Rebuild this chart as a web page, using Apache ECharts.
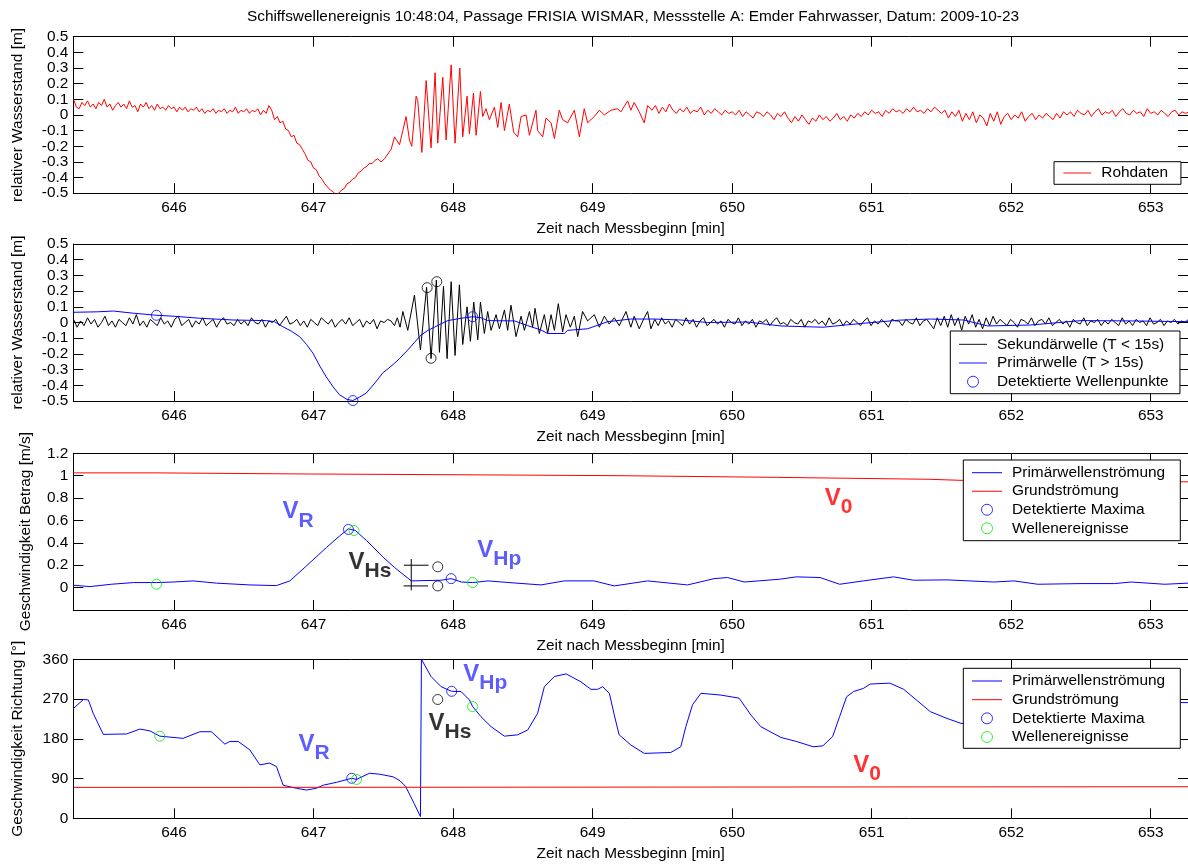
<!DOCTYPE html>
<html><head><meta charset="utf-8">
<script src="https://cdn.jsdelivr.net/npm/echarts@6.0.0/dist/echarts.min.js"></script>
<style>html,body{margin:0;padding:0;background:#fff}#c{width:1188px;height:866px}</style>
</head><body><div id="c"></div>
<script>
// ---------------- DATA ----------------
const X_MIN = 645.278, X_MAX = 653.267;
const xTicks = [646, 647, 648, 649, 650, 651, 652, 653];
const yTicksLevel = [-0.5, -0.4, -0.3, -0.2, -0.1, 0, 0.1, 0.2, 0.3, 0.4, 0.5];
const yTicksSpeed = [0, 0.2, 0.4, 0.6, 0.8, 1, 1.2];
const yTicksDir = [0, 90, 180, 270, 360];

const titleText = 'Schiffswellenereignis 10:48:04, Passage FRISIA WISMAR, Messstelle A: Emder Fahrwasser, Datum: 2009-10-23';
const xName = 'Zeit nach Messbeginn [min]';
const yNames = ['relativer Wasserstand [m]', 'relativer Wasserstand [m]', 'Geschwindigkeit Betrag [m/s]', 'Geschwindigkeit Richtung [°]'];

// sampled segments: [start time, sample step, values]
const rawCalm = [645.28, 0.02, [0.10,0.05,0.04,0.08,0.06,0.09,0.05,0.07,0.04,0.08,
  0.06,0.10,0.05,0.07,0.03,0.06,0.08,0.05,0.07,0.04,
  0.09,0.05,0.06,0.02,0.07,0.05,0.08,0.04,0.06,0.03,
  0.07,0.04,0.05,0.03,0.06,0.04,0.05,0.02,0.05,0.03,
  0.05,0.02,0.04,0.03,0.05,0.02,0.04,0.01,0.03,0.02,
  0.04,0.01,0.03,0.02,0.04,0.01,0.03,0.02,0.05,0.01,
  0.03,0.02,0.04,0.01,0.03,0.02,0.04,0.00,0.03,0.01,
  0.06,0.03]];
const rawDrawdown = [646.72, 0.02, [-0.03,-0.01,-0.05,-0.04,-0.09,-0.10,-0.14,-0.13,-0.18,-0.19,
  -0.22,-0.25,-0.29,-0.30,-0.34,-0.35,-0.39,-0.41,-0.44,-0.46,
  -0.48,-0.49,-0.51,-0.50,-0.48,-0.47,-0.44,-0.43,-0.41,-0.40,
  -0.37,-0.36,-0.34,-0.33,-0.31,-0.31,-0.29,-0.28]];
const rawWaves = [[647.484,-0.30],[647.508,-0.28],[647.532,-0.25],[647.556,-0.22],[647.580,-0.14],[647.592,-0.13],[647.616,-0.19],[647.640,-0.10],[647.663,-0.01],[647.687,-0.16],[647.704,-0.20],[647.735,0.12],[647.747,0.09],[647.776,-0.24],[647.807,0.22],[647.819,0.21],[647.842,-0.21],[647.871,0.27],[647.890,-0.18],[647.926,0.24],[647.950,-0.16],[647.986,0.32],[648.014,-0.18],[648.048,0.30],[648.069,-0.14],[648.100,0.12],[648.117,-0.12],[648.146,0.14],[648.165,-0.13],[648.196,0.15],[648.212,-0.01],[648.236,0.04],[648.260,-0.03],[648.296,0.05],[648.320,-0.08],[648.344,0.08],[648.368,-0.10],[648.403,0.07],[648.434,-0.11],[648.463,-0.14],[648.487,-0.01],[648.523,0.00],[648.547,-0.13],[648.594,0.03],[648.606,-0.10],[648.642,-0.14],[648.666,-0.02],[648.702,-0.05],[648.726,-0.15],[648.761,0.03],[648.785,-0.03],[648.821,-0.05],[648.869,0.03],[648.905,-0.14],[648.940,0.04],[648.964,-0.05],[649.012,-0.01],[649.048,0.03],[649.084,0.00],[649.131,0.03],[649.179,0.04],[649.203,0.02],[649.251,0.09],[649.274,0.03],[649.298,0.08],[649.334,0.02],[649.370,-0.05],[649.394,0.06]];
const rawTail = [649.425, 0.025, [0.03,0.06,0.01,0.05,0.02,0.07,0.03,0.01,
  0.04,0.02,0.05,0.01,0.03,0.02,0.05,0.00,0.03,0.01,0.04,0.02,0.00,0.03,0.01,0.02,
  0.00,0.03,-0.01,0.02,0.00,-0.02,0.02,0.01,-0.01,0.02,0.00,-0.03,0.01,-0.01,0.02,-0.02,
  -0.05,-0.01,-0.04,0.00,-0.03,-0.06,-0.02,-0.04,0.00,-0.03,-0.01,-0.04,-0.02,0.01,-0.03,-0.01,-0.04,0.00,-0.02,0.01,
  -0.01,0.02,0.00,0.03,0.01,0.02,-0.01,0.03,0.01,0.04,0.02,0.03,0.01,0.04,0.02,0.05,0.02,0.03,0.01,0.04,0.02,0.05,0.03,0.01,
  0.03,-0.02,0.02,-0.01,0.03,-0.04,0.01,-0.03,0.02,-0.05,0.00,-0.02,-0.07,0.01,-0.04,0.02,-0.06,-0.01,
  0.01,-0.03,0.00,-0.02,0.02,-0.04,-0.01,0.01,-0.03,0.00,-0.02,0.01,-0.01,-0.03,0.01,-0.02,0.02,0.00,
  0.02,-0.01,0.03,0.01,0.00,0.03,-0.01,0.02,0.04,0.00,0.02,0.01,0.03,-0.01,0.02,0.04,0.01,0.00,0.03,0.01,0.02,-0.01,0.04,0.01,0.02,0.00,0.03,0.01,-0.01,0.02,0.03,0.00,0.02,0.01,0.02]];

const secCalm = [645.28, 0.025, [0.02,-0.03,0.01,-0.02,0.03,-0.01,0.02,-0.03,0.00,0.04,
  -0.02,0.01,-0.03,0.02,0.00,-0.02,0.03,-0.01,0.05,-0.02,
  0.01,-0.03,0.02,0.00,-0.02,0.03,-0.01,0.01,-0.03,0.02,
  0.04,-0.02,0.00,0.02,-0.03,0.01,-0.01,0.03,-0.02,0.00,
  0.02,-0.03,0.01,0.03,-0.01,0.00,-0.02,0.02,-0.01,0.01,
  -0.02,0.03,0.00,-0.01,0.02,-0.03,0.01,0.00,0.02,-0.02,
  0.01,0.04,-0.01,0.00,0.02,-0.02,0.01,-0.03,0.02,0.00,
  -0.02,0.03,0.01,-0.01,0.02,-0.03,0.00,0.02,-0.01,0.03,
  -0.02,0.00,0.02,-0.03,0.01,-0.01,0.02,-0.04,0.01,0.00,
  0.02]];
const secWaves = [[647.555,0.01],[647.58,-0.02],[647.60,0.03],[647.62,-0.03],[647.640,0.07],[647.675,-0.05],[647.723,0.175],[647.766,-0.175],[647.810,0.225],[647.842,-0.23],[647.880,0.27],[647.902,-0.19],[647.931,0.23],[647.957,-0.23],[647.986,0.26],[648.014,-0.21],[648.045,0.24],[648.069,-0.14],[648.100,0.10],[648.124,-0.12],[648.148,0.13],[648.177,-0.11],[648.196,0.13],[648.224,-0.07],
  [648.248,0.07],[648.272,-0.05],[648.308,0.05],[648.332,-0.04],[648.368,0.08],[648.391,-0.05],[648.415,0.11],[648.451,-0.09],[648.487,0.04],[648.511,-0.05],[648.547,0.07],[648.570,-0.03],[648.587,0.09],[648.618,-0.07],[648.654,0.05],[648.678,-0.07],[648.702,0.05],[648.726,-0.05],[648.754,0.12],[648.785,-0.06],[648.809,0.05],[648.840,-0.03],[648.869,0.04],[648.893,-0.09],[648.928,0.07],[648.964,0.01],[649.012,0.05],[649.048,-0.03],[649.084,0.04],[649.119,-0.01],[649.155,0.03],[649.191,-0.02],[649.239,0.07],[649.274,-0.03],[649.298,0.04],[649.334,-0.04],[649.370,0.03],[649.394,0.07],[649.418,-0.04]];
const secTail = [649.445, 0.025, [0.02,-0.02,0.03,-0.01,0.01,-0.03,0.02,0.00,-0.02,0.03,
  -0.01,0.02,-0.03,0.01,0.03,-0.02,0.00,0.02,-0.01,0.01,
  -0.03,0.02,0.00,-0.01,0.03,-0.02,0.01,-0.01,0.02,-0.03,
  0.01,0.00,0.02,-0.02,0.01,0.03,-0.01,0.00,-0.02,0.02,
  0.00,-0.01,0.02,-0.03,0.01,0.00,0.02,-0.01,0.01,-0.02,
  0.03,-0.01,0.00,0.02,-0.02,0.01,-0.01,0.02,0.00,-0.02,
  0.01,0.03,-0.02,0.01,-0.01,0.02,0.00,-0.03,0.02,0.01,
  0.01,-0.02,0.02,0.00,-0.01,0.03,-0.02,0.01,0.02,-0.01,
  -0.04,0.03,-0.02,0.04,-0.03,0.05,-0.02,0.03,-0.05,0.04,
  -0.01,0.05,-0.03,0.02,-0.04,0.03,-0.02,0.04,-0.01,0.02,
  0.00,-0.02,0.02,0.00,-0.03,0.02,0.01,-0.01,0.03,-0.02,
  0.01,0.02,-0.01,0.03,-0.02,0.00,0.02,-0.01,0.01,-0.03,
  0.02,0.00,-0.01,0.03,-0.02,0.01,0.00,0.02,-0.02,0.01,
  -0.01,0.02,0.00,-0.02,0.03,-0.01,0.01,-0.02,0.02,0.00,
  0.01,-0.02,0.03,-0.01,0.00,0.02,-0.02,0.01,0.00,0.02,
  -0.01,0.01,0.00,0.02]];

const primLevel = [[645.28,0.065],[645.45,0.068],[645.565,0.073],[645.70,0.06],[645.874,0.046],[646.0,0.04],[646.185,0.027],[646.423,0.016],[646.662,0.012],[646.72,0.005],[646.78,-0.027],[646.84,-0.055],[646.90,-0.09],[646.95,-0.14],[646.996,-0.196],[647.04,-0.27],[647.09,-0.345],[647.14,-0.41],[647.186,-0.46],[647.24,-0.49],[647.282,-0.497],[647.33,-0.475],[647.377,-0.45],[647.44,-0.385],[647.497,-0.32],[647.54,-0.29],[647.58,-0.26],[647.616,-0.23],[647.675,-0.175],[647.72,-0.13],[647.77,-0.08],[647.82,-0.05],[647.866,-0.03],[647.91,-0.01],[647.962,0.012],[648.057,0.027],[648.14,0.037],[648.20,0.03],[648.248,0.012],[648.44,0.01],[648.535,-0.02],[648.63,-0.048],[648.678,-0.07],[648.797,-0.07],[648.821,-0.05],[648.964,-0.04],[649.107,0.005],[649.274,0.022],[649.44,0.022],[649.632,0.016],[649.823,0.0],[650.11,0.003],[650.35,-0.022],[650.65,-0.03],[650.94,-0.005],[651.2,0.015],[651.42,0.022],[651.66,0.016],[651.83,-0.022],[652.14,-0.016],[652.5,0.012],[652.86,0.01],[653.27,0.005]];
const levelPoints = [[645.874,0.046],[647.282,-0.497],[648.14,0.037]];
const levelSecPoints = [[647.814,0.222],[647.883,0.26],[647.842,-0.228]];

const speedPrim = [[645.28,0.021],[645.397,0.009],[645.55,0.03],[645.71,0.045],[645.874,0.045],[645.994,0.05],[646.137,0.06],[646.304,0.04],[646.543,0.024],[646.734,0.018],[646.83,0.06],[646.95,0.195],[647.094,0.36],[647.19,0.465],[647.25,0.525],[647.30,0.51],[647.38,0.42],[647.50,0.27],[647.58,0.18],[647.70,0.06],[647.914,0.066],[647.986,0.08],[648.06,0.05],[648.14,0.045],[648.25,0.06],[648.40,0.045],[648.63,0.024],[648.797,0.06],[649.01,0.06],[649.155,0.015],[649.394,0.06],[649.68,0.024],[649.87,0.08],[649.967,0.09],[650.086,0.05],[650.34,0.075],[650.46,0.096],[650.63,0.09],[650.77,0.03],[650.94,0.06],[651.156,0.096],[651.3,0.066],[651.54,0.069],[651.875,0.05],[652.02,0.06],[652.19,0.03],[652.5,0.036],[652.74,0.036],[652.86,0.05],[653.1,0.03],[653.27,0.04]];
const speedBase = [[645.28,1.025],[645.864,1.025],[645.87,1.015],[646.98,1.015],[646.99,1.008],[648.093,1.008],[648.10,1.0],[649.19,1.0],[649.20,0.985],[650.32,0.985],[650.33,0.968],[651.41,0.968],[651.42,0.958],[651.65,0.958],[651.66,0.95],[653.27,0.945]];
const speedMaxima = [[647.25,0.52],[647.986,0.08]];
const speedEvents = [[645.874,0.03],[647.29,0.51],[648.14,0.045]];
const speedSecPoints = [[647.89,0.186],[647.89,0.015]];
const speedSecBars = [[[647.647,0.2],[647.824,0.2]], [[647.645,0.015],[647.82,0.015]], [[647.70,0.255],[647.70,-0.024]]];
const speedLabels = [[646.774,0.677,'R'],[647.247,0.227,'Hs'],[648.17,0.33,'Hp'],[650.66,0.80,'0']];

const dirPrim = [[645.28,249],[645.35,269],[645.386,268],[645.42,238],[645.493,190],[645.66,191],[645.755,202],[645.827,198],[645.898,186],[646.065,181],[646.185,196],[646.268,196],[646.364,168],[646.4,174],[646.46,174],[646.543,155],[646.615,121],[646.686,125],[646.734,117],[646.782,75],[646.806,73],[646.877,68],[646.949,64],[647.02,68],[647.07,75],[647.165,81.5],[647.273,90.6],[647.308,88],[647.40,102],[647.47,100],[647.57,94],[647.62,85],[647.66,72],[647.72,34],[647.766,4],[647.773,0],[647.773,360],[647.78,358],[647.842,321],[647.914,298],[647.99,287.5],[648.057,287],[648.117,268],[648.14,253],[648.2,230],[648.272,207.5],[648.368,186],[648.463,189],[648.535,200],[648.606,238],[648.654,298],[648.726,321],[648.81,327],[648.916,309],[648.988,292],[649.036,292],[649.072,298],[649.12,283],[649.155,234],[649.19,189],[649.274,166],[649.37,147],[649.56,149],[649.632,162],[649.668,207.5],[649.716,257],[649.776,283],[649.919,279],[650.05,272],[650.134,234],[650.205,207.5],[650.35,183],[650.46,174],[650.58,162],[650.65,164],[650.72,185],[650.77,230],[650.82,275],[650.87,287],[650.94,294],[650.99,304],[651.13,306],[651.23,292],[651.32,268],[651.42,241.5],[651.54,226],[651.64,215],[651.8,212],[652.1,210],[652.5,228],[652.9,250],[653.15,262],[653.27,262]];
const dirBase = [[645.28,70],[646.40,70],[646.41,71.5],[653.27,71.5]];
const dirMaxima = [[647.273,90.6],[647.99,287.5]];
const dirEvents = [[645.898,186],[647.308,88],[648.14,253]];
const dirSecPoints = [[647.89,269]];
const dirLabels = [[646.889,167,'R'],[648.07,326.7,'Hp'],[647.82,215.8,'Hs'],[650.865,120.7,'0']];

// ---------------- STYLE / LAYOUT ----------------
const FONT = "'Liberation Sans', Arial, Helvetica, sans-serif";
const FS = 15.4;
const RED = '#ff0000', BLUE = '#0000ff', GREEN = '#00ee00', BLACK = '#000000';
const labelColor = {R: '#3333ff', Hp: '#3333ff', Hs: '#000000', '0': '#ff0000'};
const LINE_ICON = 'path://M0,0L30,0L30,1L0,1Z';
const grids = [
  {left: 73.3, top: 36.7, width: 1114.7, height: 156.5},
  {left: 73.3, top: 244, width: 1114.7, height: 157},
  {left: 73.3, top: 453.3, width: 1114.7, height: 156.7},
  {left: 73.3, top: 659.3, width: 1114.7, height: 159}
];
const yCfg = [
  {min: -0.5, max: 0.5, interval: 0.1, ticks: yTicksLevel, gap: 48},
  {min: -0.5, max: 0.5, interval: 0.1, ticks: yTicksLevel, gap: 48},
  {min: -0.2, max: 1.2, interval: 0.2, ticks: yTicksSpeed, gap: 40.5},
  {min: 0, max: 360, interval: 90, ticks: yTicksDir, gap: 48}
];

function seg(s) { return s[2].map((v, i) => [+(s[0] + i * s[1]).toFixed(4), v]); }

const axLine = {show: true, onZero: false, lineStyle: {color: '#000', width: 1}};
const tickStyle = {color: '#000', width: 1};
const xAxis = [], yAxis = [];
for (let i = 0; i < 4; i++) {
  xAxis.push({gridIndex: i, type: 'value', min: X_MIN, max: X_MAX, position: 'bottom',
    axisLine: axLine,
    axisTick: {show: true, inside: true, length: 10, lineStyle: tickStyle, customValues: xTicks},
    axisLabel: {show: true, customValues: xTicks, margin: 7, color: '#000', fontSize: FS, fontFamily: FONT},
    splitLine: {show: false},
    name: xName, nameLocation: 'middle', nameGap: 28,
    nameTextStyle: {color: '#000', fontSize: FS, fontFamily: FONT}});
  yAxis.push({gridIndex: i, type: 'value', min: yCfg[i].min, max: yCfg[i].max, interval: yCfg[i].interval, position: 'left',
    axisLine: axLine,
    axisTick: {show: true, inside: true, length: 10, lineStyle: tickStyle, customValues: yCfg[i].ticks},
    axisLabel: {show: true, customValues: yCfg[i].ticks, margin: 5, color: '#000', fontSize: FS, fontFamily: FONT},
    splitLine: {show: false},
    name: yNames[i], nameLocation: 'middle', nameGap: yCfg[i].gap, nameRotate: 90,
    nameTextStyle: {color: '#000', fontSize: FS, fontFamily: FONT}});
}
for (let i = 0; i < 4; i++) {
  xAxis.push({gridIndex: i, type: 'value', min: X_MIN, max: X_MAX, position: 'top',
    axisLine: axLine,
    axisTick: {show: true, inside: true, length: 10, lineStyle: tickStyle, customValues: xTicks},
    axisLabel: {show: false}, splitLine: {show: false}});
  yAxis.push({gridIndex: i, type: 'value', min: yCfg[i].min, max: yCfg[i].max, interval: yCfg[i].interval, position: 'right',
    axisLine: axLine,
    axisTick: {show: true, inside: true, length: 10, lineStyle: tickStyle, customValues: yCfg[i].ticks},
    axisLabel: {show: false}, splitLine: {show: false}});
}

function line(name, data, color, gi) {
  return {type: 'line', name: name, data: data, xAxisIndex: gi, yAxisIndex: gi, symbol: 'none', showSymbol: false,
    lineStyle: {color: color, width: 1}, itemStyle: {color: color}, silent: true, animation: false, z: 2};
}
function circles(name, data, color, gi) {
  return {type: 'scatter', name: name, data: data, xAxisIndex: gi, yAxisIndex: gi, symbol: 'circle', symbolSize: 10,
    itemStyle: {color: 'rgba(0,0,0,0)', borderColor: color, borderWidth: 1}, silent: true, animation: false, z: 4};
}
function annot(gi, list) {
  return {type: 'scatter', name: 'annotation' + gi, xAxisIndex: gi, yAxisIndex: gi, symbolSize: 1, silent: true, animation: false, z: 6,
    itemStyle: {color: 'rgba(0,0,0,0)'},
    data: list.map(a => ({value: [a[0], a[1]], label: {show: true, position: 'right', distance: 0,
      formatter: '{v|V}{s|' + a[2] + '}',
      rich: {
        v: {fontSize: 24, fontWeight: 'bold', fontFamily: FONT, color: labelColor[a[2]], lineHeight: 24},
        s: {fontSize: 21, fontWeight: 'bold', fontFamily: FONT, color: labelColor[a[2]], lineHeight: 21, padding: [18, 0, 0, 0]}
      }}}))};
}

const series = [
  line('Rohdaten', [].concat(seg(rawCalm), seg(rawDrawdown), rawWaves, seg(rawTail)), RED, 0),
  line('Sekundärwelle (T < 15s)', [].concat(seg(secCalm), secWaves, seg(secTail)), BLACK, 1),
  line('Primärwelle (T > 15s)', primLevel, BLUE, 1),
  circles('Detektierte Wellenpunkte', levelPoints, BLUE, 1),
  circles('Sekundärwellenpunkte', levelSecPoints, BLACK, 1),
  line('Primärwellenströmung', speedPrim, BLUE, 2),
  line('Grundströmung', speedBase, RED, 2),
  circles('Detektierte Maxima', speedMaxima, BLUE, 2),
  circles('Wellenereignisse', speedEvents, GREEN, 2),
  circles('Sekundärmaxima', speedSecPoints, BLACK, 2),
  annot(2, speedLabels),
  line('Primärwellenströmung', dirPrim, BLUE, 3),
  line('Grundströmung', dirBase, RED, 3),
  circles('Detektierte Maxima', dirMaxima, BLUE, 3),
  circles('Wellenereignisse', dirEvents, GREEN, 3),
  circles('Sekundärmaxima', dirSecPoints, BLACK, 3),
  annot(3, dirLabels)
];
speedSecBars.forEach((b, k) => series.push(line('Sekundärbereich' + k, b, BLACK, 2)));

function lineItem(name) { return {name: name, icon: LINE_ICON, itemStyle: {borderWidth: 0}}; }
function legend(items, left, top, pad, gap, iw) {
  return {show: true, orient: 'vertical', left: left, top: top, padding: pad, itemGap: gap,
    itemWidth: iw, itemHeight: 11, selectedMode: false, symbolKeepAspect: true,
    backgroundColor: '#fff', borderColor: '#000', borderWidth: 1, borderRadius: 0,
    itemStyle: {borderWidth: 1},
    textStyle: {color: '#000', fontSize: FS, fontFamily: FONT, lineHeight: 15, padding: [0, 0, 0, 5]},
    data: items, z: 10};
}
const option = {
  backgroundColor: '#fff',
  animation: false,
  title: {text: titleText, left: 633, top: 9, textAlign: 'center', padding: 0,
    textStyle: {color: '#000', fontSize: FS, fontWeight: 'normal', fontFamily: FONT}},
  grid: grids,
  xAxis: xAxis,
  yAxis: yAxis,
  legend: [
    legend([lineItem('Rohdaten')], 1054, 161.7, [3.8, 12.9, 3.8, 9.3], 4, 28),
    legend([lineItem('Sekundärwelle (T < 15s)'), lineItem('Primärwelle (T > 15s)'), 'Detektierte Wellenpunkte'], 950.3, 331, [5.8, 11.3, 4.5, 8.7], 3.7, 28),
    legend([lineItem('Primärwellenströmung'), lineItem('Grundströmung'), 'Detektierte Maxima', 'Wellenereignisse'], 963.3, 460, [5.2, 15.2, 4.9, 8.7], 3.53, 30),
    legend([lineItem('Primärwellenströmung'), lineItem('Grundströmung'), 'Detektierte Maxima', 'Wellenereignisse'], 963.3, 668.3, [5.2, 15.2, 3.8, 8.7], 3.67, 30)
  ],
  series: series
};
const chart = echarts.init(document.getElementById('c'), null, {renderer: 'canvas'});
chart.setOption(option);
</script></body></html>
